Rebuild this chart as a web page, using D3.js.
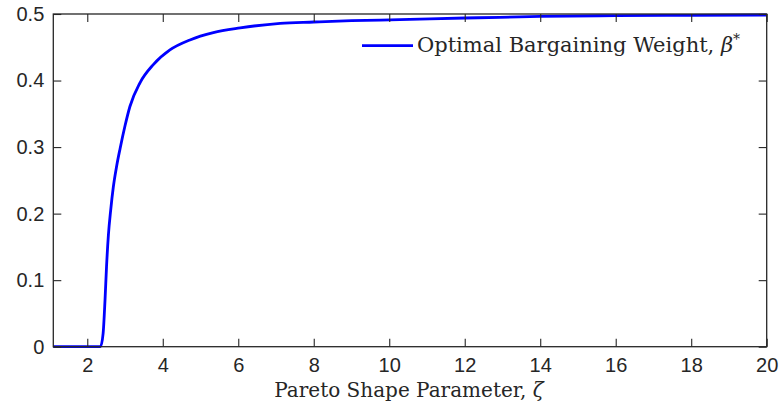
<!DOCTYPE html>
<html>
<head>
<meta charset="utf-8">
<script src="https://cdn.jsdelivr.net/npm/d3@7"></script>
<style>
html,body{margin:0;padding:0;background:#fff;}
svg{display:block;}
</style>
</head>
<body>
<svg id="chart" width="782" height="411"></svg>
<script>
// ---- data ----
const zeta = [1.1, 2.35, 2.42, 2.47, 2.51, 2.56, 2.62, 2.69, 2.78, 2.87, 3.0, 3.13, 3.4, 3.75, 4.19, 4.72, 5.34, 6.05, 7.11, 8, 9, 10.28, 12, 12.93, 14, 16, 18, 20];
const beta = [0, 0, 0.02, 0.07, 0.12, 0.168, 0.205, 0.24, 0.272, 0.298, 0.332, 0.361, 0.397, 0.424, 0.446, 0.461, 0.472, 0.479, 0.486, 0.488, 0.490, 0.4915, 0.494, 0.495, 0.4965, 0.4975, 0.498, 0.4985];
const xTicks = [2, 4, 6, 8, 10, 12, 14, 16, 18, 20];
const yTicks = [0, 0.1, 0.2, 0.3, 0.4, 0.5];
const seriesName = "Optimal Bargaining Weight, ";
const xLabel = "Pareto Shape Parameter, ";

const svg = d3.select("#chart");
const m = {left: 53.3, right: 766.7, top: 14, bottom: 346.7};
const x = d3.scaleLinear().domain([1.1, 20]).range([m.left, m.right]);
const y = d3.scaleLinear().domain([0, 0.5]).range([m.bottom, m.top]);
const axisColor = "#262626";
const tickFont = "'Liberation Sans', Arial, sans-serif";
const serif = "'DejaVu Serif', serif";

// line
const line = d3.line().x((d, i) => x(zeta[i])).y(d => y(d)).curve(d3.curveMonotoneX);
svg.append("path").datum(beta)
  .attr("d", line)
  .attr("fill", "none")
  .attr("stroke", "#0000ff")
  .attr("stroke-width", 2.8)
  .attr("stroke-linejoin", "round");

// axes
function styleAxis(g, showText) {
  g.select(".domain").remove();
  g.selectAll(".tick line").attr("stroke", axisColor).attr("stroke-width", 1.1);
  g.selectAll(".tick text").attr("fill", axisColor)
    .style("font-family", tickFont).style("font-size", "20px");
  if (!showText) g.selectAll(".tick text").remove();
}
svg.append("g").attr("transform", `translate(0,${m.bottom})`)
  .call(d3.axisBottom(x).tickValues(xTicks).tickSize(-8).tickPadding(11).tickFormat(d3.format("d")))
  .call(g => styleAxis(g, true));
svg.append("g").attr("transform", `translate(0,${m.top})`)
  .call(d3.axisTop(x).tickValues(xTicks).tickSize(-8))
  .call(g => styleAxis(g, false));
svg.append("g").attr("transform", `translate(${m.left},0)`)
  .call(d3.axisLeft(y).tickValues(yTicks).tickSize(-8).tickPadding(9).tickFormat(d => d === 0 ? "0" : d3.format(".1f")(d)))
  .call(g => styleAxis(g, true));
svg.append("g").attr("transform", `translate(${m.right},0)`)
  .call(d3.axisRight(y).tickValues(yTicks).tickSize(-8))
  .call(g => styleAxis(g, false));

// box
svg.append("rect")
  .attr("x", m.left).attr("y", m.top)
  .attr("width", m.right - m.left).attr("height", m.bottom - m.top)
  .attr("fill", "none").attr("stroke", axisColor).attr("stroke-width", 1.3);

// x label
const xl = svg.append("text")
  .attr("x", 409).attr("y", 397)
  .attr("text-anchor", "middle")
  .style("font-family", serif).style("font-size", "20px").attr("fill", "#262626");
xl.append("tspan").text(xLabel);
xl.append("tspan").style("font-style", "italic").text("ζ");

// legend
svg.append("line")
  .attr("x1", 362).attr("x2", 413).attr("y1", 45.7).attr("y2", 45.7)
  .attr("stroke", "#0000ff").attr("stroke-width", 2.8);
const lt = svg.append("text")
  .attr("x", 417).attr("y", 52)
  .style("font-family", serif).style("font-size", "21px").attr("fill", "#262626");
lt.append("tspan").text(seriesName);
lt.append("tspan").style("font-style", "italic").text("β");
lt.append("tspan").attr("dy", -8).style("font-size", "14px").text("*");
</script>
</body>
</html>
